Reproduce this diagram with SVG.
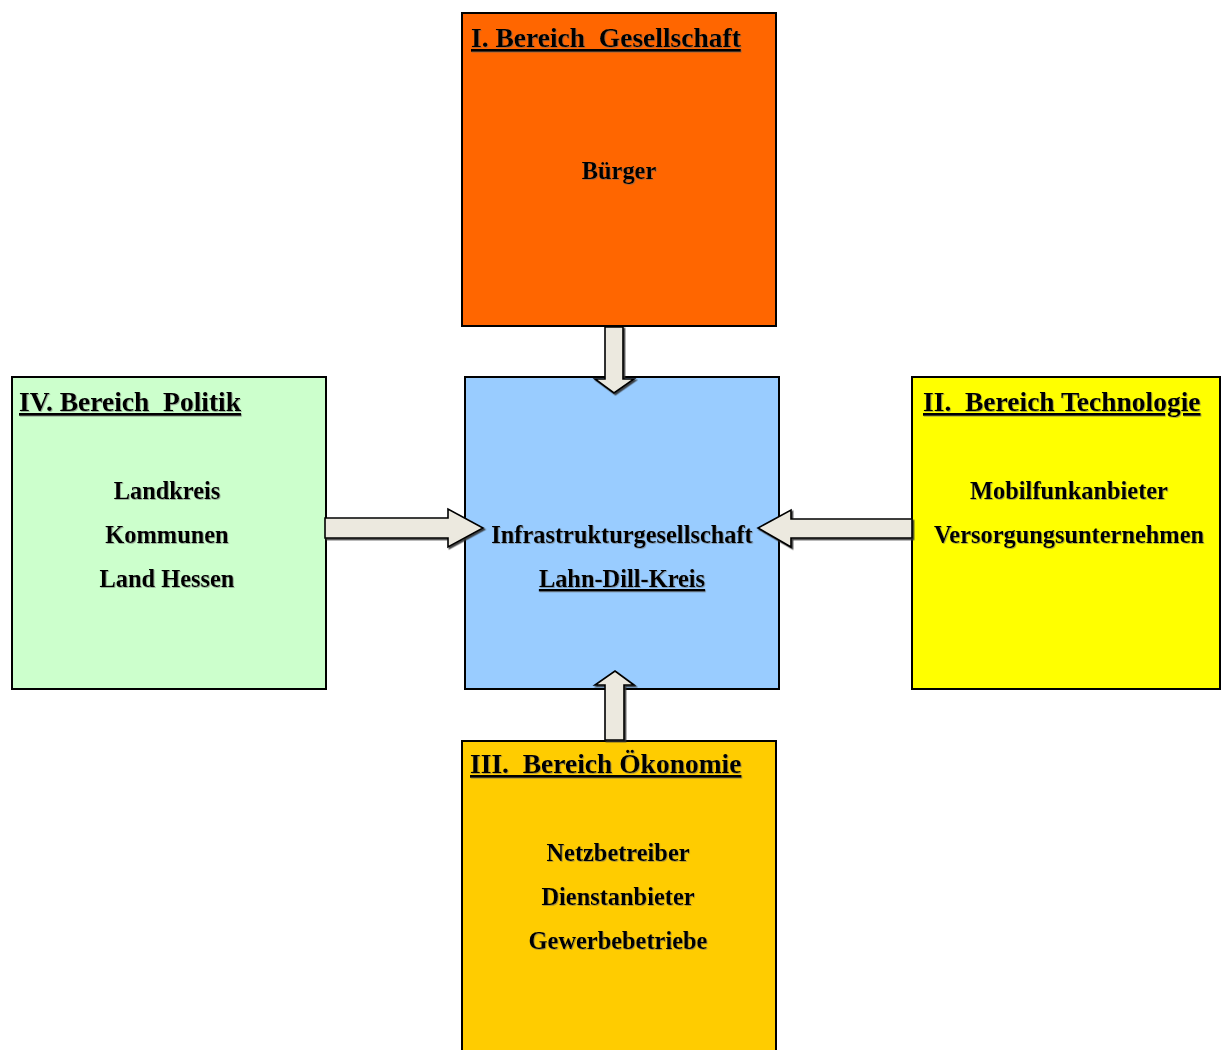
<svg xmlns="http://www.w3.org/2000/svg" width="1221" height="1050" viewBox="0 0 1221 1050">
<defs>
<style>
text{font-family:"Liberation Serif","Times New Roman",serif;font-weight:bold;fill:#000;white-space:pre;filter:url(#ts)}
.h{font-size:27.5px;text-decoration:underline}
.b{font-size:24.4px;text-anchor:middle}
.u{text-decoration:underline}
.box{stroke:#000;stroke-width:2}
.arr{fill:#ECE9DF;stroke:#000;stroke-width:1.6;stroke-linejoin:miter;filter:url(#as)}
</style>
<filter id="ts" x="-5%" y="-20%" width="110%" height="140%"><feDropShadow dx="0.8" dy="0.8" stdDeviation="0.2" flood-color="#666" flood-opacity="0.6"/></filter>
<filter id="as" x="-10%" y="-10%" width="120%" height="120%"><feDropShadow dx="1.5" dy="1.5" stdDeviation="0.3" flood-color="#333" flood-opacity="0.9"/></filter>
</defs>
<rect width="1221" height="1050" fill="#fff"/>
<g id="node-gesellschaft">
<rect class="box" x="462" y="13" width="314" height="313" fill="#FF6600"/>
<text class="h" x="471" y="47">I. Bereich  Gesellschaft</text>
<text class="b" x="619" y="179">Bürger</text>
</g>
<g id="node-politik">
<rect class="box" x="12" y="377" width="314" height="312" fill="#CCFFCC"/>
<text class="h" x="19" y="411">IV. Bereich  Politik</text>
<text class="b" x="167" y="499">Landkreis</text>
<text class="b" x="167" y="543">Kommunen</text>
<text class="b" x="167" y="587">Land Hessen</text>
</g>
<g id="node-infra">
<rect class="box" x="465" y="377" width="314" height="312" fill="#99CCFF"/>
<text class="b" x="622" y="543">Infrastrukturgesellschaft</text>
<text class="b u" x="622" y="587">Lahn-Dill-Kreis</text>
</g>
<g id="node-technologie">
<rect class="box" x="912" y="377" width="308" height="312" fill="#FFFF00"/>
<text class="h" x="923" y="411">II.  Bereich Technologie</text>
<text class="b" x="1069" y="499">Mobilfunkanbieter</text>
<text class="b" x="1069" y="543">Versorgungsunternehmen</text>
</g>
<g id="node-oekonomie">
<rect class="box" x="462" y="741" width="314" height="312" fill="#FFCC00"/>
<text class="h" x="470" y="773">III.  Bereich Ökonomie</text>
<text class="b" x="618" y="861">Netzbetreiber</text>
<text class="b" x="618" y="905">Dienstanbieter</text>
<text class="b" x="618" y="949">Gewerbebetriebe</text>
</g>
<g id="connectors">
<polygon class="arr" points="605,327 623,327 623,379 634,379 614,393 595,379 605,379"/>
<polygon class="arr" points="325,518 448,518 448,509 483,528 448,547 448,538 325,538"/>
<polygon class="arr" points="912,519 791,519 791,510 758,528 791,547 791,538 912,538"/>
<polygon class="arr" points="605,740 605,685 595,685 615,671 634,685 624,685 624,740"/>
</g>
</svg>
